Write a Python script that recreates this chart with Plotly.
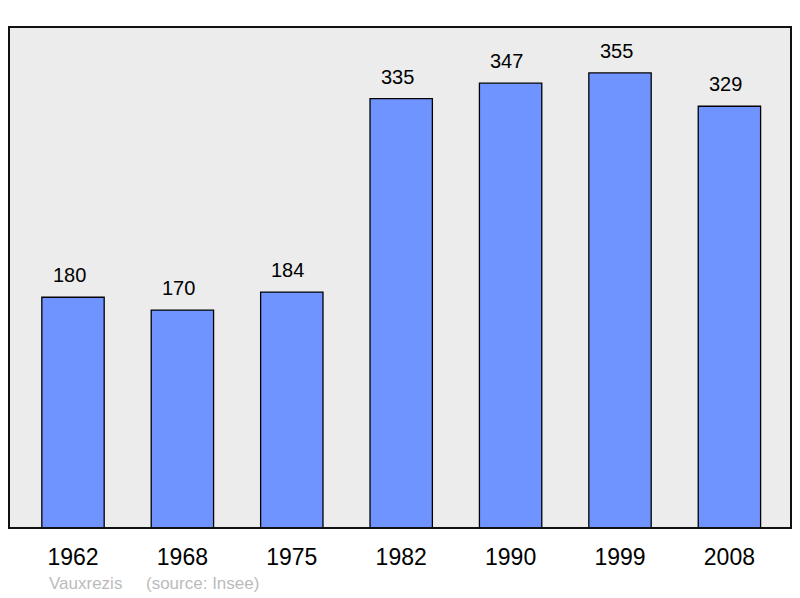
import plotly.graph_objects as go

years = ["1962", "1968", "1975", "1982", "1990", "1999", "2008"]
population = [180, 170, 184, 335, 347, 355, 329]
place = "Vauxrezis"
source = "(source: Insee)"

xs = list(range(len(years)))

fig = go.Figure()
fig.add_trace(go.Bar(
    x=xs, y=population, width=0.57,
    marker=dict(color="#7094ff", line=dict(color="black", width=1.3)),
    hoverinfo="skip",
))

for x, v in zip(xs, population):
    fig.add_annotation(x=x, y=v, text=str(v), showarrow=False, yshift=22, xshift=-4,
                       font=dict(size=20, color="black", family="Liberation Sans"))

fig.add_annotation(xref="paper", yref="paper", x=(47 - 9) / 782, y=-0.11,
                   xanchor="left", yanchor="middle", showarrow=False,
                   text=place + "&nbsp;&nbsp;&nbsp;&nbsp;&nbsp;" + source,
                   font=dict(size=17, color="#bbbbbb", family="Liberation Sans"))

fig.add_shape(type="rect", xref="paper", yref="paper", x0=0, y0=0, x1=1, y1=1,
              line=dict(color="#111111", width=2), layer="above")

fig.update_layout(
    width=792, height=590,
    margin=dict(l=1, r=9, t=19, b=70),
    paper_bgcolor="white", plot_bgcolor="#ececec",
    showlegend=False,
    xaxis=dict(range=[-0.585, 6.563], tickvals=xs, ticktext=years,
               showgrid=False, zeroline=False, ticks="outside", ticklen=8,
               tickcolor="rgba(0,0,0,0)",
               tickfont=dict(size=23, color="black", family="Liberation Sans")),
    yaxis=dict(range=[0, 390.8], showgrid=False, zeroline=False,
               showticklabels=False),
)

fig.write_html("out.html")
